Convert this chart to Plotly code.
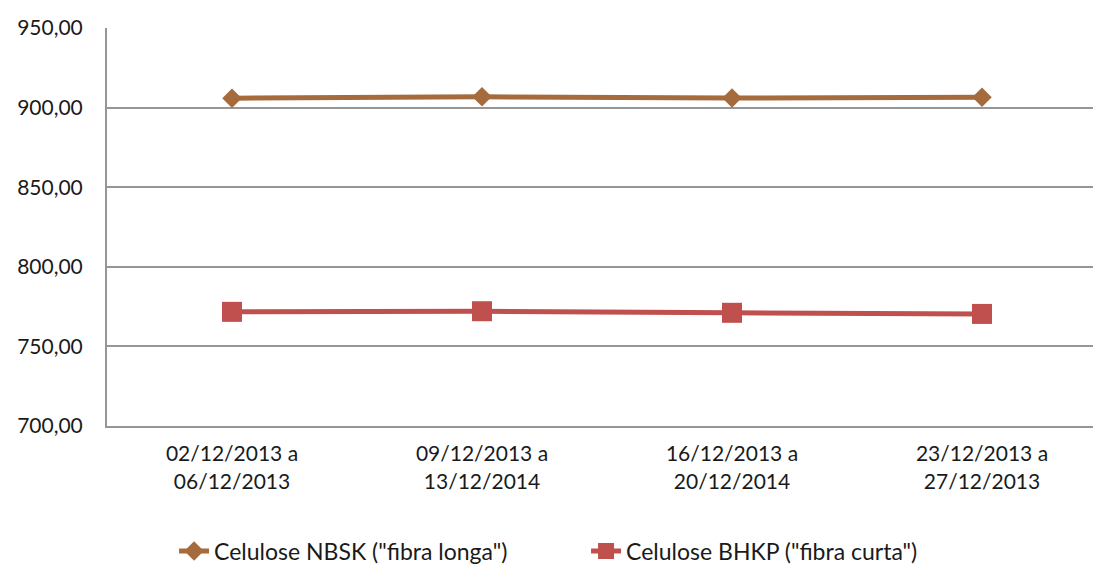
import plotly.graph_objects as go

# Weekly pulp prices (US$/t) for December 2013
periods = ["02/12/2013 a<br>06/12/2013", "09/12/2013 a<br>13/12/2014",
           "16/12/2013 a<br>20/12/2014", "23/12/2013 a<br>27/12/2013"]
nbsk = [905.9, 906.8, 906.0, 906.5]
bhkp = [771.7, 772.1, 771.1, 770.4]

series_names = ['Celulose NBSK ("fibra longa")', 'Celulose BHKP ("fibra curta")']
font_family = "Lato, 'Noto Sans', sans-serif"

fig = go.Figure()
fig.add_trace(go.Scatter(
    x=list(range(len(periods))), y=nbsk, name=series_names[0],
    mode="lines+markers",
    line=dict(color="#A66B3D", width=5),
    marker=dict(symbol="diamond", size=15, color="#A66B3D"),
))
fig.add_trace(go.Scatter(
    x=list(range(len(periods))), y=bhkp, name=series_names[1],
    mode="lines+markers",
    line=dict(color="#C0504D", width=5),
    marker=dict(symbol="square", size=20, color="#C0504D"),
))

fig.update_layout(
    width=1093, height=568,
    margin=dict(l=107, r=0, t=28, b=142),
    paper_bgcolor="white", plot_bgcolor="white",
    separators=",.",
    font=dict(family=font_family, size=21, color="#1a1a1a"),
    showlegend=True,
    legend=dict(
        orientation="h", x=0.068, xanchor="left",
        yref="container", y=0.03, yanchor="middle",
        font=dict(size=23), entrywidth=367, entrywidthmode="pixels",
        itemsizing="trace",
    ),
)
fig.update_xaxes(
    range=[-0.5, 3.444], tickmode="array",
    tickvals=list(range(len(periods))), ticktext=periods,
    showgrid=False, showline=True, linecolor="#969696", linewidth=2,
    ticks="", ticklabelstandoff=8, zeroline=False, automargin=False,
)
fig.update_yaxes(
    range=[700, 950], dtick=50, tickformat=".2f",
    showgrid=True, gridcolor="#969696", gridwidth=2,
    showline=True, linecolor="#969696", linewidth=2,
    ticks="", ticklabelstandoff=18, zeroline=False, automargin=False,
)

fig.write_html("out.html")
